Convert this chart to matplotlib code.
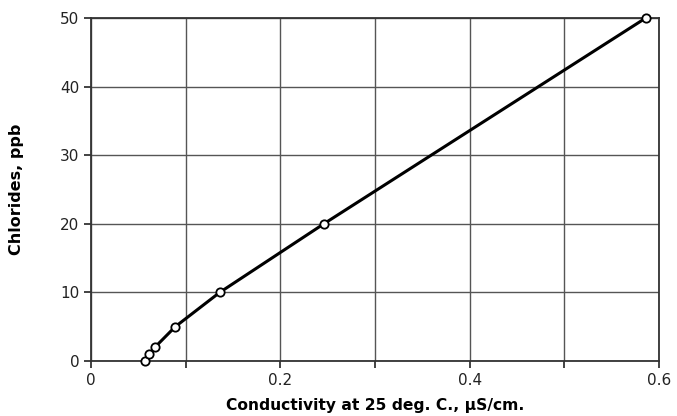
import matplotlib
matplotlib.use("Agg")
import matplotlib.pyplot as plt
import numpy as np

conductivity = [0.057, 0.0615, 0.0675, 0.089, 0.136, 0.246, 0.586]
chlorides = [0, 1, 2, 5, 10, 20, 50]
x_ticks = [0, 0.1, 0.2, 0.3, 0.4, 0.5, 0.6]
x_labels = ["0", "", "0.2", "", "0.4", "", "0.6"]
y_ticks = [0, 10, 20, 30, 40, 50]

plt.rcParams['font.family'] = ['DejaVu Sans']
fig = plt.figure(figsize=(6.77, 4.16), dpi=100)
ax = fig.add_axes([0.1344, 0.1322, 0.8390, 0.8245])

ax.plot(conductivity, chlorides, color='black', lw=2.2, marker='o', ms=6,
        mfc='white', mec='black', mew=1.3, zorder=3, clip_on=False)

ax.set_xlim(0, 0.6)
ax.set_ylim(0, 50)
ax.set_xticks(x_ticks)
ax.set_xticklabels(x_labels)
ax.set_yticks(y_ticks)
ax.grid(True, color='#555555', lw=1.0)
for s in ax.spines.values():
    s.set_color('#333333')
    s.set_linewidth(1.3)
ax.tick_params(direction='out', length=5, width=1.2, labelsize=11, colors='#222222')
ax.set_xlabel("Conductivity at 25 deg. C., µS/cm.", fontsize=11.2, fontweight='bold', labelpad=7)
ax.set_ylabel("Chlorides, ppb", fontsize=11.5, fontweight='bold', labelpad=26)

fig.savefig("out.png", dpi=100)
